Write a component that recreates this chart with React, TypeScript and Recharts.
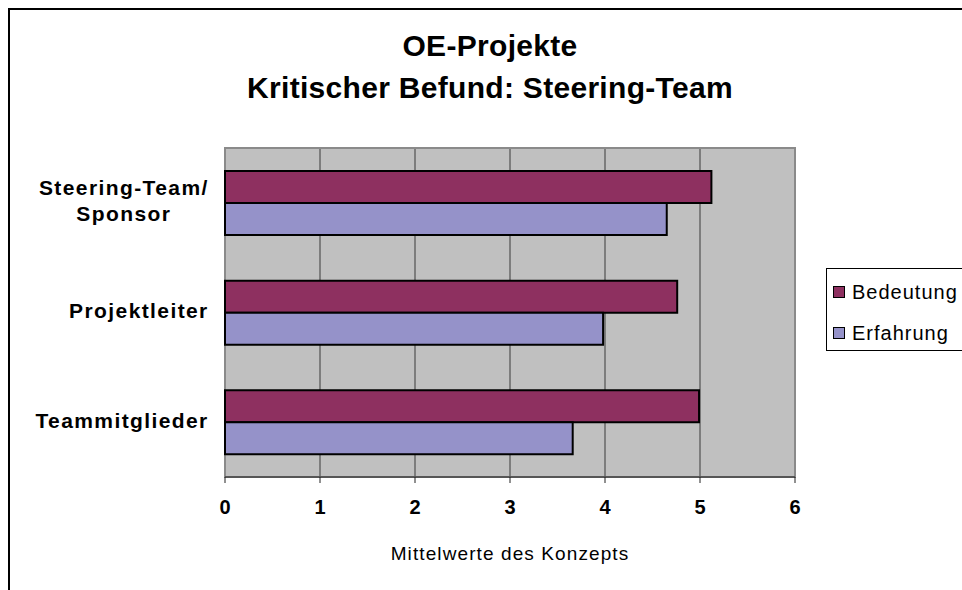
import React from 'react';
import { BarChart, Bar, XAxis, YAxis, CartesianGrid, Legend, ReferenceArea } from 'recharts';

const categories = ['Steering-Team/\nSponsor', 'Projektleiter', 'Teammitglieder'];
const bedeutung = [5.12, 4.76, 4.99];
const erfahrung = [4.65, 3.98, 3.66];
const seriesNames = ['Bedeutung', 'Erfahrung'];
const seriesColors = ['#8E3060', '#9592C9'];
const xTicks = [0, 1, 2, 3, 4, 5, 6];
const bandTicks = [0, 1, 2, 3];
const titleLines = ['OE-Projekte', 'Kritischer Befund: Steering-Team'];
const xAxisTitle = 'Mittelwerte des Konzepts';

const data = categories.map((c, i) => ({
  name: c,
  [seriesNames[0]]: bedeutung[i],
  [seriesNames[1]]: erfahrung[i],
}));

const FONT = '"Liberation Sans", Arial, Helvetica, sans-serif';
const W = 954;
const H = 582;

let ctx: CanvasRenderingContext2D | null = null;
function measure(t: string, font: string, ls: number) {
  if (!ctx) ctx = document.createElement('canvas').getContext('2d');
  if (!ctx) return t.length * 10;
  ctx.font = font;
  return ctx.measureText(t).width + ls * t.length;
}

const CatTick = (props: any) => {
  const { x, y, payload } = props;
  const lines = String(payload.value).split('\n');
  const ls = 1.4;
  const fs = 21;
  const font = `bold ${fs}px ${FONT}`;
  const widths = lines.map((l) => measure(l, font, ls));
  const maxW = Math.max(...widths);
  const cx = x - maxW / 2;
  const lh = 26;
  const startY = y - ((lines.length - 1) * lh) / 2 - 2;
  return (
    <text
      textAnchor="middle"
      fontFamily={FONT}
      fontSize={fs}
      fontWeight="bold"
      letterSpacing={ls}
      fill="#000"
    >
      {lines.map((l, i) => (
        <tspan key={i} x={cx + ls / 2} y={startY + i * lh} dy="0.355em">
          {l}
        </tspan>
      ))}
    </text>
  );
};

const LegendBox = (props: any) => {
  const payload = props.payload || [];
  return (
    <div
      style={{
        width: 180,
        height: 83,
        boxSizing: 'border-box',
        border: '1px solid #000',
        background: '#fff',
        paddingTop: 12,
        fontFamily: FONT,
        fontSize: 20,
        letterSpacing: 1,
        color: '#000',
      }}
    >
      {payload.map((e: any, i: number) => (
        <div
          key={i}
          style={{ height: 22, lineHeight: '22px', marginBottom: 19, display: 'flex', alignItems: 'center' }}
        >
          <span
            style={{
              display: 'inline-block',
              width: 12,
              height: 12,
              boxSizing: 'border-box',
              border: '1px solid #000',
              background: e.color,
              marginLeft: 6,
              marginRight: 7,
            }}
          />
          <span style={{ whiteSpace: 'nowrap' }}>{e.value}</span>
        </div>
      ))}
    </div>
  );
};

export default function App() {
  return (
    <div
      style={{
        position: 'fixed',
        left: 8,
        top: 8,
        width: W,
        height: H,
        overflow: 'hidden',
        background: '#fff',
      }}
    >
      <BarChart
        width={W}
        height={H}
        data={data}
        layout="vertical"
        margin={{ top: 140, right: 167, bottom: 13, left: 0 }}
        barCategoryGap="21%"
        barGap={0}
      >
        <CartesianGrid horizontal={false} vertical stroke="#3a3a3a" fill="#C0C0C0" />
        <ReferenceArea x1={0} x2={6} fill="none" stroke="#8a8a8a" strokeWidth={2} ifOverflow="visible" />
        <XAxis
          type="number"
          domain={[0, 6]}
          ticks={xTicks}
          interval={0}
          height={100}
          tickSize={6}
          tickMargin={17}
          stroke="#222"
          tick={{ fontSize: 20, fontWeight: 'bold', fill: '#000', fontFamily: FONT }}
          label={{
            value: xAxisTitle,
            content: (p: any) => {
              const vb = p.viewBox || {};
              return (
                <text
                  x={vb.x + vb.width / 2}
                  y={vb.y + 76}
                  textAnchor="middle"
                  dominantBaseline="central"
                  fontFamily={FONT}
                  fontSize={19}
                  letterSpacing={1.1}
                  fill="#000"
                >
                  {xAxisTitle}
                </text>
              );
            },
          }}
        />
        <YAxis
          yAxisId="band"
          type="number"
          domain={[0, 3]}
          ticks={bandTicks}
          interval={0}
          allowDataOverflow
          width={0}
          tick={false}
          tickSize={7}
          stroke="#222"
        />
        <YAxis
          type="category"
          dataKey="name"
          width={217}
          axisLine={false}
          tickLine={false}
          tickSize={0}
          tickMargin={17}
          interval={0}
          tick={<CatTick />}
        />
        <Legend
          layout="vertical"
          align="center"
          verticalAlign="middle"
          wrapperStyle={{ position: 'absolute', left: 818, top: 260, width: 180, height: 83 }}
          content={<LegendBox />}
        />
        {seriesNames.map((s, i) => (
          <Bar
            key={s}
            dataKey={s}
            name={s}
            fill={seriesColors[i]}
            stroke="#000"
            strokeWidth={2}
            isAnimationActive={false}
          />
        ))}
      </BarChart>
      <div
        style={{
          position: 'absolute',
          left: 0,
          top: 17,
          width: 964,
          textAlign: 'center',
          fontFamily: FONT,
          fontWeight: 'bold',
          fontSize: 30,
          lineHeight: '42px',
          letterSpacing: 0.3,
          color: '#000',
        }}
      >
        {titleLines.map((t, i) => (
          <div key={i}>{t}</div>
        ))}
      </div>
      <div
        style={{
          position: 'absolute',
          left: 0,
          top: 0,
          width: '100%',
          height: '100%',
          boxSizing: 'border-box',
          borderTop: '2px solid #000',
          borderLeft: '2px solid #000',
          pointerEvents: 'none',
        }}
      />
    </div>
  );
}
